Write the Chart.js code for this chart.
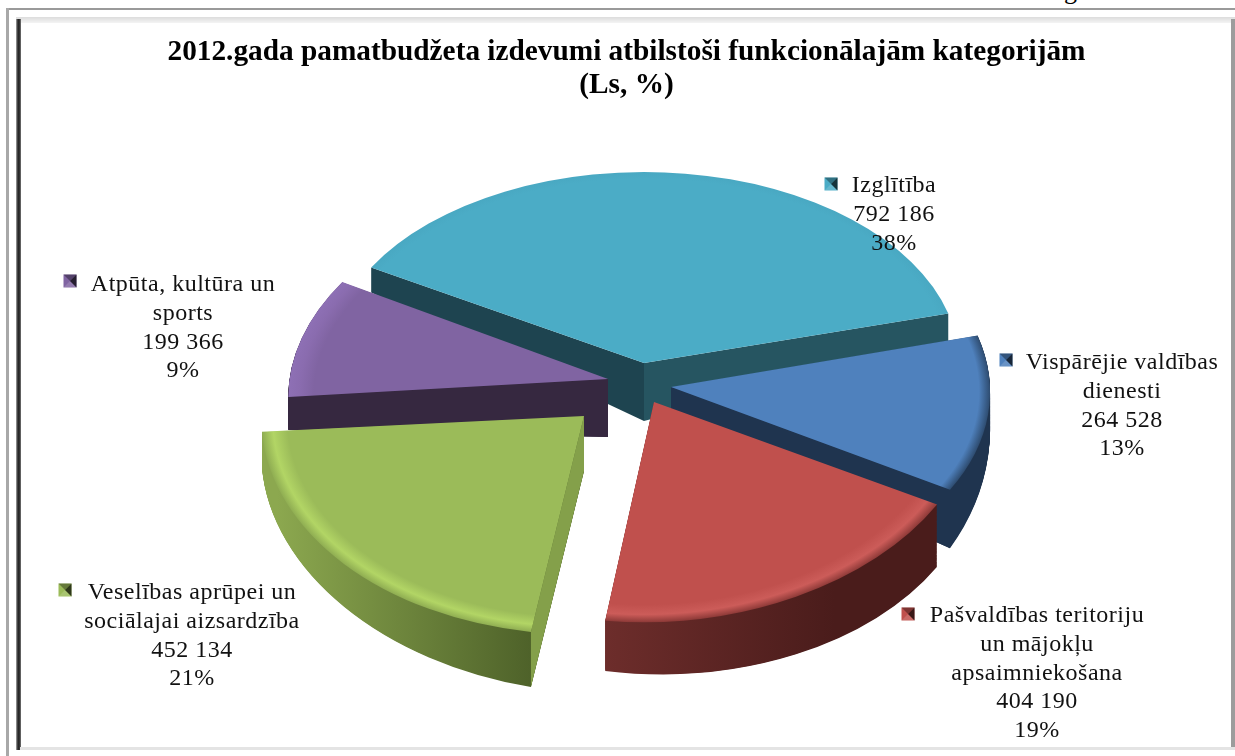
<!DOCTYPE html>
<html><head><meta charset="utf-8">
<style>
html,body{margin:0;padding:0;background:#fff;overflow:hidden}
#wrap{position:relative;width:1235px;height:756px;overflow:hidden}
canvas{position:absolute;left:0;top:0}
.f{position:absolute}
#g{position:absolute;left:1064px;top:-24px;font:26px "Liberation Serif",serif;color:#000}
</style>
<script src="https://cdn.jsdelivr.net/npm/chart.js@4"></script>
</head><body><div id="wrap">
<div id="g">g</div>
<div class="f" style="left:6px;top:8px;width:1229px;height:2px;background:#9a9a9a"></div>
<div class="f" style="left:6px;top:8px;width:3px;height:748px;background:#a8a8a8"></div>
<div class="f" style="left:16px;top:17px;width:1219px;height:6px;background:linear-gradient(#dcdcdc,#f4f4f4)"></div>
<div class="f" style="left:16px;top:19px;width:5px;height:731px;background:linear-gradient(90deg,#aaa,#222 40%,#333 70%,#777)"></div>
<div class="f" style="left:1231px;top:19px;width:4px;height:731px;background:#9c9c9c"></div>
<div class="f" style="left:20px;top:747px;width:1215px;height:3px;background:#e4e4e4"></div>
<canvas id="c" width="1235" height="756"></canvas>
</div>
<script>
const titleLines = ['2012.gada pamatbudžeta izdevumi atbilstoši funkcionālajām kategorijām', '(Ls, %)'];
const categories = [
  ['Izglītība'],
  ['Vispārējie valdības', 'dienesti'],
  ['Pašvaldības teritoriju', 'un mājokļu', 'apsaimniekošana'],
  ['Veselības aprūpei un', 'sociālajai aizsardzība'],
  ['Atpūta, kultūra un', 'sports']
];
const values = [792186, 264528, 404190, 452134, 199366];
const topColors = ['#4BACC6', '#4F81BD', '#C0504D', '#9BBB59', '#8064A2'];
const drawOrder = [0, 4, 1, 2, 3];

// 3D view of each exploded slice (style only): apex position, projection matrix, extrusion
const views = [
  {ax:644,ay:363,m:[315,0,0,191],d:58,kx:-.03,ky:.43,rim:false,walls:[true,true],grad:[-1,1],outer:['#1E4450','#265561'],inner:['#1E4450','#265561'],bevel:['#4BACC6','#4BACC6','#49A8C2']},
  {ax:671,ay:387,m:[319,6,1,203],d:36,kx:0,ky:.22,rim:true,walls:[false,true],grad:[0,1],outer:['#1F344F','#1F344F'],inner:['#1F344F','#1F344F'],bevel:['#4F81BD','#4F81BD','#2E4C70']},
  {ax:654,ay:402,m:[326,2,-9,220],d:50,kx:.04,ky:.01,rim:true,walls:[false,false],grad:[-.2,.55],outer:['#6F2E2C','#4A1C1B'],inner:['#5A2422','#5A2422'],bevel:['#C0504D','#CC5C59','#8E3A38']},
  {ax:584,ay:416,m:[322.6,-2.8,-.7,218.5],d:55,kx:.06,ky:.015,rim:true,walls:[true,false],grad:[-.95,-.1],outer:['#8CA84F','#4A5D27'],inner:['#84A04A','#84A04A'],bevel:['#9BBB59','#B2D565','#8FAD52']},
  {ax:608,ay:379,m:[319,-21,-4,201],d:58,kx:.078,ky:0,rim:true,walls:[true,false],grad:[-1,0],outer:['#362840','#362840'],inner:['#362840','#362840'],bevel:['#8064A2','#8A6CAF','#8E70B5']}
];
const labelPlaces = [
  {x:894,y:186,mx:831,my:184},
  {x:1122,y:363,mx:1006,my:360},
  {x:1037,y:616,mx:908,my:614},
  {x:192,y:593,mx:65,my:590},
  {x:183,y:285,mx:70,my:281}
];
const labelFont = '24px "Liberation Serif", serif';
const labelSpacing = '0.5px';
const labelLine = 28.7;

const fmt = v => String(v).replace(/\B(?=(\d{3})+$)/g, ' ');
const total = values.reduce((a,b)=>a+b,0);

function place(ctx, v, arc, t) {
  const R = arc.outerRadius, [a,b,c,d] = v.m;
  ctx.translate(v.ax, v.ay);
  if (t) ctx.transform(1, t*v.kx, 0, 1+t*v.ky, 0, t*v.d);
  ctx.transform(a/R, c/R, b/R, d/R, 0, 0);
  ctx.translate(-arc.x, -arc.y);
}
function drawArc(ctx, arc, fill) {
  const o = arc.options;
  arc.options = Object.assign({}, o, {backgroundColor: fill, borderWidth: 0, offset: 0});
  arc.draw(ctx);
  arc.options = o;
}
function wall(ctx, v, ang, col) {
  const [a,b,c,d] = v.m, ux = Math.cos(ang), uy = Math.sin(ang);
  const x = a*ux + b*uy, y = c*ux + d*uy;
  const yb = y + v.d + v.kx*x + v.ky*y;
  ctx.save(); ctx.translate(v.ax, v.ay);
  ctx.beginPath(); ctx.moveTo(0,0); ctx.lineTo(x,y); ctx.lineTo(x,yb); ctx.lineTo(0,v.d); ctx.closePath();
  ctx.fillStyle = col; ctx.fill(); ctx.restore();
}
const pie3d = {
  id: 'pie3d',
  beforeDatasetDraw(chart) {
    const ctx = chart.ctx, arcs = chart.getDatasetMeta(0).data;
    drawOrder.forEach(i => {
      const arc = arcs[i], v = views[i], R = arc.outerRadius;
      if (v.rim) {
        const lin = ctx.createLinearGradient(arc.x+R*v.grad[0], 0, arc.x+R*v.grad[1], 0);
        lin.addColorStop(0, v.outer[0]); lin.addColorStop(1, v.outer[1]);
        const steps = Math.ceil(v.d + 30);
        for (let s = steps; s >= 1; s--) {
          ctx.save(); place(ctx, v, arc, s/steps); drawArc(ctx, arc, lin); ctx.restore();
        }
      }
      if (v.walls[0]) wall(ctx, v, arc.startAngle, v.inner[0]);
      if (v.walls[1]) wall(ctx, v, arc.endAngle, v.inner[1]);
      const rad = ctx.createRadialGradient(arc.x, arc.y, 0, arc.x, arc.y, R);
      rad.addColorStop(0, v.bevel[0]); rad.addColorStop(.92, v.bevel[0]);
      rad.addColorStop(.965, v.bevel[1]); rad.addColorStop(1, v.bevel[2]);
      ctx.save(); place(ctx, v, arc, 0); drawArc(ctx, arc, rad); ctx.restore();
    });
    return false;
  },
  afterDatasetsDraw(chart) {
    const ctx = chart.ctx;
    ctx.save();
    ctx.font = labelFont; ctx.letterSpacing = labelSpacing;
    ctx.textAlign = 'center'; ctx.textBaseline = 'middle';
    categories.forEach((name, i) => {
      const p = labelPlaces[i];
      const lines = name.concat([fmt(values[i]), Math.round(values[i]/total*100) + '%']);
      ctx.fillStyle = '#111';
      lines.forEach((t, n) => ctx.fillText(t, p.x, p.y + n*labelLine));
      const col = topColors[i], s = 6.5, x = p.mx, y = p.my;
      const tri = (x1,y1,x2,y2,c,al) => { ctx.globalAlpha = al; ctx.beginPath(); ctx.moveTo(x,y); ctx.lineTo(x1,y1); ctx.lineTo(x2,y2); ctx.closePath(); ctx.fillStyle=c; ctx.fill(); ctx.globalAlpha = 1; };
      ctx.fillStyle = col; ctx.fillRect(x-s, y-s, 2*s, 2*s);
      tri(x-s,y-s,x+s,y-s,'#000',.35);
      tri(x-s,y+s,x+s,y+s,'#fff',.15);
      tri(x+s,y-s,x+s,y+s,'#000',.7);
    });
    ctx.restore();
  }
};
new Chart(document.getElementById('c'), {
  type: 'pie',
  data: { labels: categories.map(c => c.join(' ')), datasets: [{ data: values, backgroundColor: topColors, borderWidth: 0 }] },
  options: {
    responsive: false, animation: false, rotation: -60,
    layout: { padding: { left: 18, top: 32, right: 0, bottom: 60 } },
    plugins: {
      legend: { display: false }, tooltip: { enabled: false },
      title: { display: true, text: titleLines, color: '#000', font: { family: '"Liberation Serif", serif', size: 29.3, weight: 'bold', lineHeight: 1.126 }, padding: { top: 4, bottom: 10 } }
    }
  },
  plugins: [pie3d]
});
</script></body></html>
